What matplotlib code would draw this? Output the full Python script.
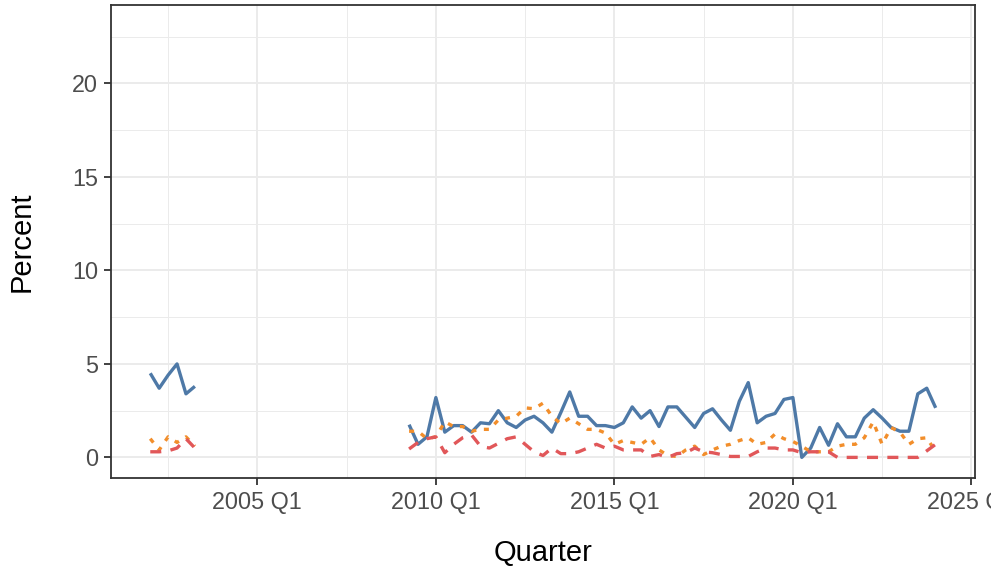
#!/usr/bin/env python3
"Three quarterly percentage series, ggplot theme_bw look."

import numpy as np
import matplotlib
matplotlib.use("Agg")
import matplotlib.pyplot as plt

# quarters with data: 2002 Q1 - 2003 Q2, then 2009 Q2 - 2024 Q1
quarters = ([f"{y} Q{q}" for y in (2002, 2003) for q in (1, 2, 3, 4)][:6]
            + [f"{y} Q{q}" for y in range(2009, 2025) for q in (1, 2, 3, 4)][1:61])

blue = [4.5, 3.7, 4.4, 5.0, 3.4, 3.8,
        1.75, 0.7, 1.1,
        3.2, 1.35, 1.7, 1.7,
        1.35, 1.85, 1.8, 2.5,
        1.85, 1.6, 2.0, 2.2,
        1.85, 1.35, 2.4, 3.5,
        2.2, 2.2, 1.7, 1.7,
        1.6, 1.85, 2.7, 2.1,
        2.5, 1.65, 2.7, 2.7,
        2.15, 1.6, 2.35, 2.6,
        2.0, 1.45, 3.0, 4.0,
        1.85, 2.2, 2.35, 3.1,
        3.2, 0.0, 0.5, 1.6,
        0.65, 1.8, 1.1, 1.1,
        2.1, 2.55, 2.1, 1.6,
        1.4, 1.4, 3.4, 3.7,
        2.65]

orange = [1.0, 0.4, 1.1, 0.8, 1.1, 0.6,
          1.4, 1.4, 1.0,
          1.1, 1.9, 1.65, 1.65,
          1.4, 1.5, 1.5, 2.0,
          2.1, 2.2, 2.65, 2.6,
          2.9, 2.2, 1.8, 2.1,
          1.8, 1.5, 1.5, 1.3,
          0.7, 0.9, 0.8, 0.7,
          1.05, 0.4, 0.1, 0.05,
          0.4, 0.6, 0.15, 0.4,
          0.6, 0.7, 0.9, 1.05,
          0.7, 0.8, 1.25, 1.0,
          0.85, 0.6, 0.3, 0.3,
          0.3, 0.6, 0.7, 0.7,
          1.05, 1.9, 0.7, 1.6,
          1.35, 0.7, 1.0, 1.05,
          0.3]

red = [0.3, 0.3, 0.35, 0.5, 1.0, 0.5,
       0.45, 0.8, 1.0,
       1.1, 0.25, 0.7, 1.05,
       1.2, 0.6, 0.5, 0.75,
       1.0, 1.1, 0.7, 0.3,
       0.1, 0.5, 0.2, 0.2,
       0.3, 0.5, 0.7, 0.5,
       0.6, 0.4, 0.4, 0.4,
       0.05, 0.15, 0.0, 0.2,
       0.25, 0.5, 0.3, 0.25,
       0.15, 0.05, 0.05, 0.05,
       0.3, 0.5, 0.5, 0.4,
       0.4, 0.25, 0.3, 0.3,
       0.3, 0.0, 0.0, 0.0,
       0.0, 0.0, 0.0, 0.0,
       0.0, 0.0, 0.0, 0.35,
       0.7]

xticks = [2005, 2010, 2015, 2020, 2025]
xticklabels = ["2005 Q1", "2010 Q1", "2015 Q1", "2020 Q1", "2025 Q1"]
yticks = [0, 5, 10, 15, 20]


def qpos(label):
    y, q = label.split(" Q")
    return int(y) + (int(q) - 1) / 4


x = np.array([qpos(q) for q in quarters])
# break the line where quarters are missing
cuts = np.where(np.diff(x) > 0.3)[0] + 1
segments = np.split(np.arange(len(x)), cuts)

plt.rcParams["font.family"] = ["Liberation Sans", "DejaVu Sans"]

fig = plt.figure(figsize=(9.91, 5.69), dpi=100)
ax = fig.add_axes([0.112, 0.160, 0.8718, 0.8313])

grid = "#EBEBEB"
ax.set_xticks(xticks)
ax.set_xticklabels(xticklabels)
ax.set_xticks([2002.5, 2007.5, 2012.5, 2017.5, 2022.5], minor=True)
ax.set_yticks(yticks)
ax.set_yticks([2.5, 7.5, 12.5, 17.5, 22.5], minor=True)
ax.grid(which="major", color=grid, linewidth=1.4)
ax.grid(which="minor", color=grid, linewidth=0.7)
ax.set_axisbelow(True)

lw = 2.4
for seg in segments:
    ax.plot(x[seg], np.array(blue)[seg], color="#4E79A7", lw=lw,
            solid_capstyle="butt")
    ax.plot(x[seg], np.array(orange)[seg], color="#F28E2B", lw=lw,
            dashes=(1.5, 2.3), dash_capstyle="butt")
    ax.plot(x[seg], np.array(red)[seg], color="#E15759", lw=lw,
            dashes=(3.3, 2.8), dash_capstyle="butt")

ax.set_xlim(2000.9, 2025.1)
ax.set_ylim(-1.1, 24.2)

for s in ax.spines.values():
    s.set_color("#333333")
    s.set_linewidth(1.3)
ax.tick_params(which="major", length=5.2, width=1.3, color="#333333",
               labelcolor="#4D4D4D", labelsize=16.8, pad=4.2)
ax.tick_params(which="minor", length=0)

ax.set_xlabel("Quarter", fontsize=21, color="black")
ax.set_ylabel("Percent", fontsize=21, color="black")
ax.xaxis.set_label_coords(0.5, -0.128)
ax.yaxis.set_label_coords(-0.087, 0.5)

fig.savefig("out.png", dpi=100)
